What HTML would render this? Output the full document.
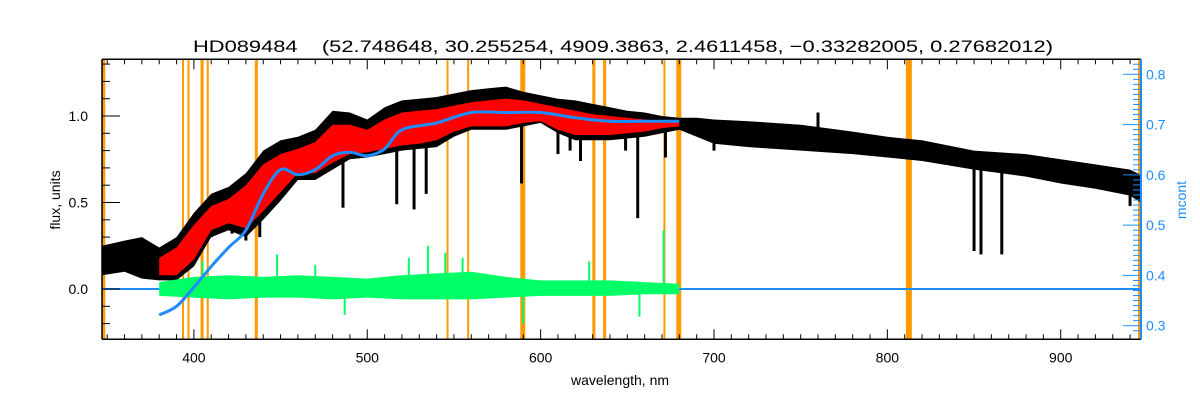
<!DOCTYPE html>
<html><head><meta charset="utf-8"><style>
html,body{margin:0;padding:0;background:#fff;}
svg{display:block;font-family:"Liberation Sans",sans-serif;}
</style></head><body>
<svg id="chart" width="1200" height="400" viewBox="0 0 1200 400" xmlns="http://www.w3.org/2000/svg">
<rect x="0" y="0" width="1200" height="400" fill="#fff"/>
<text x="193" y="52" font-size="17" textLength="860" lengthAdjust="spacingAndGlyphs" fill="#000" style="white-space:pre" xml:space="preserve">HD089484    (52.748648, 30.255254, 4909.3863, 2.4611458, −0.33282005, 0.27682012)</text>
<g id="plot"></g>
<text x="620" y="385" font-size="14" text-anchor="middle" fill="#000">wavelength, nm</text>
<text transform="translate(60,200) rotate(-90)" font-size="14" text-anchor="middle" fill="#000">flux, units</text>
<text transform="translate(1186,200) rotate(-90)" font-size="14" text-anchor="middle" fill="#1e8cff">mcont</text>
</svg>
<script>
// ---- data ----
const waves = [347,360,370,380,390,400,410,420,430,440,450,460,470,480,490,500,510,520,530,540,550,560,570,580,590,600,610,620,630,640,650,660,670,680,690,700,720,750,780,800,820,850,880,900,920,940,946];
const fluxTop = [0.25,0.28,0.30,0.24,0.30,0.44,0.55,0.59,0.67,0.80,0.86,0.88,0.92,1.03,1.02,0.98,1.05,1.09,1.10,1.11,1.13,1.15,1.16,1.17,1.14,1.12,1.10,1.09,1.07,1.05,1.03,1.02,1.00,0.99,0.99,0.98,0.97,0.95,0.91,0.88,0.86,0.80,0.78,0.75,0.72,0.69,0.66];
const fluxBot = [0.08,0.10,0.06,0.05,0.05,0.13,0.30,0.34,0.30,0.40,0.51,0.63,0.63,0.69,0.75,0.76,0.78,0.80,0.81,0.82,0.88,0.92,0.92,0.92,0.94,0.96,0.90,0.86,0.86,0.86,0.87,0.88,0.90,0.92,0.88,0.84,0.82,0.80,0.78,0.76,0.74,0.69,0.65,0.61,0.58,0.54,0.50];
const lineWaves = [388,393,397,410,422,430,438,486,517,527,534,589,610,617,623,649,656,672,700,760,850,854,866,940];
const lineDepths = [0.06,0.10,0.12,0.30,0.32,0.28,0.30,0.47,0.49,0.46,0.55,0.61,0.78,0.80,0.74,0.80,0.41,0.76,0.80,1.02,0.22,0.20,0.20,0.48];
const modelWaves = [380,390,400,410,420,430,440,450,460,470,480,490,500,510,520,530,540,550,560,570,580,590,600,610,620,630,640,650,660,670,680];
const modelTop = [0.18,0.24,0.37,0.48,0.52,0.60,0.72,0.78,0.81,0.85,0.95,0.95,0.92,0.98,1.02,1.03,1.04,1.06,1.08,1.09,1.10,1.09,1.07,1.05,1.03,1.01,1.00,0.99,0.98,0.97,0.96];
const modelBot = [0.08,0.08,0.17,0.34,0.38,0.35,0.45,0.56,0.67,0.67,0.73,0.78,0.79,0.81,0.83,0.84,0.86,0.91,0.94,0.94,0.94,0.96,0.97,0.92,0.89,0.89,0.89,0.90,0.91,0.93,0.94];
const contWaves = [380,390,400,410,420,430,440,450,460,470,480,490,500,510,520,540,560,580,600,620,640,660,680];
const contFlux = [-0.15,-0.10,0.01,0.13,0.24,0.34,0.55,0.69,0.66,0.69,0.77,0.79,0.77,0.81,0.92,0.96,1.02,1.02,1.02,0.99,0.97,0.97,0.97];
const residWaves = [380,400,420,440,460,480,500,520,540,560,580,600,620,640,660,680];
const residTop = [0.04,0.07,0.08,0.07,0.08,0.07,0.06,0.08,0.09,0.10,0.07,0.05,0.05,0.05,0.04,0.03];
const residBot = [-0.04,-0.05,-0.06,-0.05,-0.05,-0.06,-0.05,-0.06,-0.06,-0.06,-0.05,-0.04,-0.04,-0.04,-0.03,-0.03];
const spikeWaves = [405,448,470,487,524,535,545,555,590,628,657,671];
const spikeVals = [0.16,0.20,0.14,-0.15,0.18,0.25,0.21,0.18,-0.20,0.16,-0.16,0.34];
const maskWaves = [348,393.7,396.9,404.7,408,436,546.3,558.2,589.7,630.7,636.9,671.4,679.7,812.4,945.5];
const maskWidths = [3,2,2,3,2,3,2,2,5,3,3,2,5,6,3];
const xTicks = [400,500,600,700,800,900];
const yTicks = [0.0,0.5,1.0];
const y2Ticks = [0.3,0.4,0.5,0.6,0.7,0.8];

// ---- scales ----
const X0=102, X1=1141, Y0=59.3, Y1=339.3;
const xmin=347, xmax=946.3;
const x = w => X0 + (w - xmin) / (xmax - xmin) * (X1 - X0);
const y = f => 289 - f * 173;
const y2 = v => 325.7 - (v - 0.3) / 0.5 * 251.4;
const NS='http://www.w3.org/2000/svg';
const plot = document.getElementById('plot');
function mk(tag, attrs, parent){const e=document.createElementNS(NS,tag);for(const k in attrs)e.setAttribute(k,attrs[k]);(parent||plot).appendChild(e);return e;}
function band(ws, top, bot){let p=ws.map((w,i)=>x(w).toFixed(1)+','+y(top[i]).toFixed(1));for(let i=ws.length-1;i>=0;i--)p.push(x(ws[i]).toFixed(1)+','+y(bot[i]).toFixed(1));return p.join(' ');}
function smooth(pts){let d='M'+pts[0][0]+','+pts[0][1];for(let i=0;i<pts.length-1;i++){const p0=pts[i-1]||pts[i],p1=pts[i],p2=pts[i+1],p3=pts[i+2]||p2;d+=` C${(p1[0]+(p2[0]-p0[0])/6).toFixed(1)},${(p1[1]+(p2[1]-p0[1])/6).toFixed(1)} ${(p2[0]-(p3[0]-p1[0])/6).toFixed(1)},${(p2[1]-(p3[1]-p1[1])/6).toFixed(1)} ${p2[0].toFixed(1)},${p2[1].toFixed(1)}`;}return d;}

maskWaves.forEach((w,i)=>{
  const r=mk('rect',{x:x(w)-maskWidths[i]/2,y:Y0,width:maskWidths[i],height:Y1-Y0,fill:'#ff9900'});
  
  
});
const obs=mk('polygon',{points:band(waves,fluxTop,fluxBot),fill:'#000'});


lineWaves.forEach((w,i)=>{
  let k=0;while(k<waves.length-2&&waves[k+1]<w)k++;
  const t=(w-waves[k])/(waves[k+1]-waves[k]);
  const bot=fluxBot[k]+(fluxBot[k+1]-fluxBot[k])*t;
  const l=mk('line',{x1:x(w),x2:x(w),y1:y(bot+0.02),y2:y(lineDepths[i]),stroke:'#000','stroke-width':3});
  
  
});
const mod=mk('polygon',{points:band(modelWaves,modelTop,modelBot),fill:'#ff0000'});


const zl=mk('line',{x1:X0,x2:X1,y1:y(0),y2:y(0),stroke:'#1e8cff','stroke-width':2});


const res=mk('polygon',{points:band(residWaves,residTop,residBot),fill:'#00ff66'});


spikeWaves.forEach((w,i)=>{
  const s=mk('line',{x1:x(w),x2:x(w),y1:y(0),y2:y(spikeVals[i]),stroke:'#00ff66','stroke-width':2});
  
  
});
const cp=mk('path',{d:smooth(contWaves.map((w,i)=>[x(w),y(contFlux[i])])),fill:'none',stroke:'#1e8cff','stroke-width':3,'stroke-linejoin':'round'});


const fr=mk('path',{d:`M${X0},${Y0}H${X1}M${X0},${Y1}H${X1}M${X0},${Y0}V${Y1}`,stroke:'#000','stroke-width':1.5,fill:'none'});


const ra=mk('line',{x1:X1,x2:X1,y1:Y0,y2:Y1,stroke:'#1e8cff','stroke-width':2});


for(let w=350;w<=945;w+=10){
  const major=w%100===0;
  mk('line',{x1:x(w),x2:x(w),y1:Y1,y2:Y1-(major?10:5),stroke:'#000'});
  mk('line',{x1:x(w),x2:x(w),y1:Y0,y2:Y0+(major?10:5),stroke:'#000'});
}
xTicks.forEach(w=>{
  const t=mk('text',{x:x(w),y:Y1+23,'font-size':14,'text-anchor':'middle',fill:'#000'});
  t.textContent=w;
  
  
});
for(let f=-0.2;f<=1.31;f+=0.1){
  const major=Math.abs(f*2-Math.round(f*2))<1e-6;
  mk('line',{x1:X0,x2:X0+(major?18:8),y1:y(f),y2:y(f),stroke:'#000'});
}
yTicks.forEach(f=>{
  const t=mk('text',{x:X0-14,y:y(f)+5,'font-size':14,'text-anchor':'end',fill:'#000'});
  t.textContent=f.toFixed(1);
  
  
});
for(let v=0.29;v<=0.83;v+=0.01){
  const major=Math.abs(v*10-Math.round(v*10))<1e-6;
  mk('line',{x1:X1,x2:X1-(major?18:8),y1:y2(v),y2:y2(v),stroke:'#1e8cff'});
}
y2Ticks.forEach(v=>{
  const t=mk('text',{x:X1+5,y:y2(v)+5,'font-size':14,fill:'#1e8cff'});
  t.textContent=v.toFixed(1);
  
  
});
</script>
</body></html>
